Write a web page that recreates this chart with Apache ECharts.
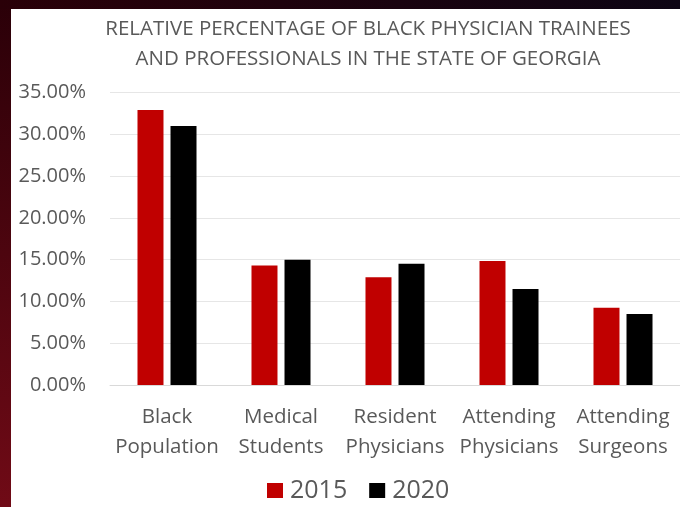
<!DOCTYPE html>
<html>
<head>
<meta charset="utf-8">
<script src="https://cdn.jsdelivr.net/npm/echarts@6/dist/echarts.min.js"></script>
<style>
html,body{margin:0;padding:0;background:#fff;}
#chart{width:680px;height:507px;}
</style>
</head>
<body>
<div id="chart"></div>
<script>
const titleLines = ['RELATIVE PERCENTAGE OF BLACK PHYSICIAN TRAINEES', 'AND PROFESSIONALS IN THE STATE OF GEORGIA'];
const categories = ['Black\nPopulation', 'Medical\nStudents', 'Resident\nPhysicians', 'Attending\nPhysicians', 'Attending\nSurgeons'];
const seriesNames = ['2015', '2020'];
const values2015 = [32.9, 14.3, 12.9, 14.85, 9.25];
const values2020 = [31.0, 15.0, 14.5, 11.5, 8.5];
const yTicks = [0, 5, 10, 15, 20, 25, 30, 35];

const FONT = '"Open Sans", sans-serif';
const GRAY = '#595959';
const chart = echarts.init(document.getElementById('chart'), null, {renderer: 'canvas'});
chart.setOption({
  backgroundColor: '#ffffff',
  animation: false,
  graphic: [
    {type: 'rect', left: 0, top: 0, z: -10, shape: {width: 11, height: 507},
     style: {fill: new echarts.graphic.LinearGradient(0, 0, 0, 1, [{offset: 0, color: '#2a0008'}, {offset: 1, color: '#700a16'}])}},
    {type: 'rect', left: 0, top: 0, z: -10, shape: {width: 680, height: 9},
     style: {fill: new echarts.graphic.LinearGradient(0, 0, 1, 0, [{offset: 0, color: '#2a0008'}, {offset: 1, color: '#0d0514'}])}}
  ],
  title: {
    text: titleLines.join('\n'),
    left: 368, top: 14, padding: 0, textAlign: 'center',
    textStyle: {fontFamily: FONT, fontSize: 20.5, fontWeight: 'normal', color: GRAY, lineHeight: 30}
  },
  legend: {
    data: seriesNames,
    left: 262, top: 473,
    itemWidth: 16, itemHeight: 15, itemGap: 22,
    icon: 'rect',
    textStyle: {fontFamily: FONT, fontSize: 25, color: GRAY, padding: [0, 0, 0, 2]}
  },
  grid: {left: 110, right: -6, top: 92.5, bottom: 122, containLabel: false},
  xAxis: {
    type: 'category', data: categories,
    axisLine: {lineStyle: {color: '#d9d9d9'}},
    axisTick: {show: false},
    axisLabel: {fontFamily: FONT, fontSize: 20.5, color: GRAY, lineHeight: 30, margin: 17, interval: 0}
  },
  yAxis: {
    type: 'value', min: yTicks[0], max: yTicks[yTicks.length - 1], interval: 5,
    axisLine: {show: false}, axisTick: {show: false},
    splitLine: {lineStyle: {color: '#e6e6e6'}},
    axisLabel: {fontFamily: FONT, fontSize: 20, color: GRAY, margin: 24, formatter: v => v.toFixed(2) + '%'}
  },
  series: [
    {name: seriesNames[0], type: 'bar', data: values2015, barWidth: 26, barGap: '27%', itemStyle: {color: '#c00000'}},
    {name: seriesNames[1], type: 'bar', data: values2020, barWidth: 26, barGap: '27%', itemStyle: {color: '#000000'}}
  ]
});
</script>
</body>
</html>
